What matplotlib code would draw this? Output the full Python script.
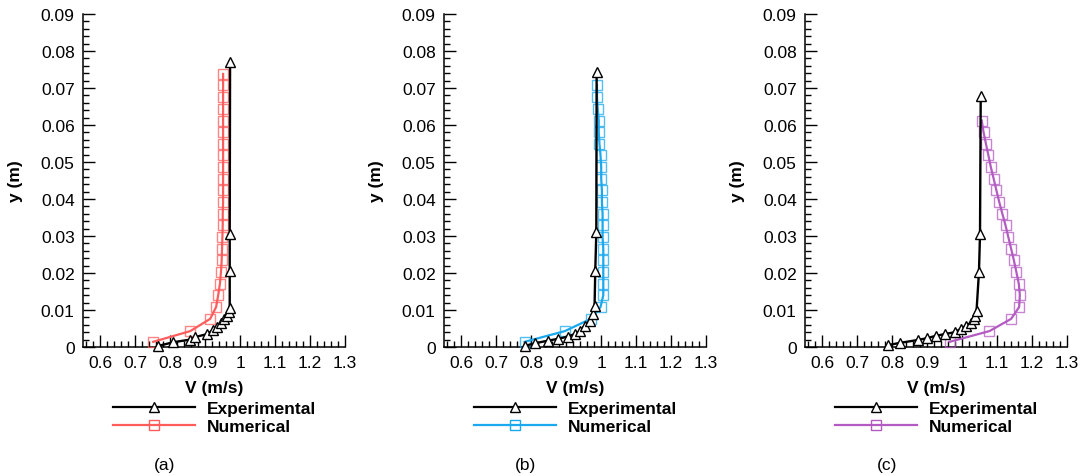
import matplotlib
matplotlib.use("Agg")
import matplotlib.pyplot as plt
from matplotlib.ticker import MultipleLocator
from matplotlib.lines import Line2D

plt.rcParams['font.family'] = ['Liberation Sans', 'DejaVu Sans']

# ---------------- data ----------------
x_ticks = [0.6, 0.7, 0.8, 0.9, 1.0, 1.1, 1.2, 1.3]
x_tick_labels = ['0.6', '0.7', '0.8', '0.9', '1', '1.1', '1.2', '1.3']
y_ticks = [0, 0.01, 0.02, 0.03, 0.04, 0.05, 0.06, 0.07, 0.08, 0.09]
y_tick_labels = ['0', '0.01', '0.02', '0.03', '0.04', '0.05', '0.06', '0.07', '0.08', '0.09']
panel_labels = ['(a)', '(b)', '(c)']
series_names = ['Experimental', 'Numerical']

# Experimental profiles
y_exp_a = [0.0003, 0.0013, 0.0020, 0.0027, 0.0035, 0.0045, 0.0055, 0.0065, 0.0075,
           0.0085, 0.0095, 0.0105, 0.0205, 0.0305, 0.0770]
v_exp_a = [0.766, 0.809, 0.857, 0.871, 0.906, 0.921, 0.935, 0.945, 0.955,
           0.962, 0.967, 0.970, 0.970, 0.970, 0.971]

y_exp_b = [0.0003, 0.0010, 0.0017, 0.0022, 0.0028, 0.0035, 0.0043, 0.0057, 0.0070,
           0.0089, 0.0110, 0.0205, 0.0310, 0.0743]
v_exp_b = [0.781, 0.810, 0.847, 0.876, 0.904, 0.924, 0.939, 0.953, 0.967,
           0.976, 0.981, 0.983, 0.986, 0.987]

y_exp_c = [0.0005, 0.0011, 0.0019, 0.0024, 0.0030, 0.0035, 0.0040, 0.0049, 0.0057,
           0.0065, 0.0075, 0.0085, 0.0097, 0.0203, 0.0305, 0.0678]
v_exp_c = [0.787, 0.821, 0.873, 0.900, 0.924, 0.950, 0.979, 0.996, 1.010,
           1.025, 1.033, 1.038, 1.041, 1.048, 1.051, 1.053]

# Numerical profiles
y_num_a = [0.0014, 0.0043, 0.0076, 0.0108, 0.0140, 0.0171, 0.0203, 0.0234, 0.0266,
           0.0297, 0.0329, 0.0360, 0.0392, 0.0423, 0.0455, 0.0486, 0.0518, 0.0549,
           0.0581, 0.0612, 0.0644, 0.0675, 0.0707, 0.0738]
v_num_a = [0.751, 0.857, 0.914, 0.931, 0.937, 0.942, 0.945, 0.947, 0.948,
           0.949, 0.950, 0.950, 0.951, 0.951, 0.951, 0.951, 0.951, 0.951,
           0.951, 0.951, 0.951, 0.951, 0.951, 0.951]

y_num_b = [0.0014, 0.0043, 0.0076, 0.0108, 0.0140, 0.0171, 0.0203, 0.0234, 0.0266,
           0.0297, 0.0329, 0.0360, 0.0392, 0.0423, 0.0455, 0.0486, 0.0518, 0.0549,
           0.0581, 0.0612, 0.0644, 0.0675, 0.0707]
v_num_b = [0.781, 0.896, 0.970, 0.998, 1.006, 1.006, 1.006, 1.006, 1.006,
           1.004, 1.004, 1.004, 1.002, 1.002, 1.000, 1.000, 0.998, 0.995,
           0.993, 0.993, 0.990, 0.988, 0.988]

y_num_c = [0.0014, 0.0043, 0.0076, 0.0108, 0.0140, 0.0171, 0.0203, 0.0234, 0.0266,
           0.0297, 0.0329, 0.0360, 0.0392, 0.0423, 0.0455, 0.0486, 0.0518, 0.0549,
           0.0581, 0.0612]
v_num_c = [0.964, 1.078, 1.140, 1.163, 1.165, 1.162, 1.155, 1.148, 1.140,
           1.132, 1.124, 1.115, 1.106, 1.098, 1.090, 1.082, 1.075, 1.068,
           1.061, 1.056]

num_colors = ['#FF5C5C', '#1AA8EE', '#B35BC2']

panels = [
    (v_exp_a, y_exp_a, v_num_a, y_num_a),
    (v_exp_b, y_exp_b, v_num_b, y_num_b),
    (v_exp_c, y_exp_c, v_num_c, y_num_c),
]

# ---------------- figure ----------------
W, H = 1082, 477
fig = plt.figure(figsize=(W / 100, H / 100), dpi=100)
FS = 12.5

ax_left_px = [83, 444, 805]
ax_w_px, ax_bottom_px, ax_top_px = 262, 348, 15

for i, (ve, ye, vn, yn) in enumerate(panels):
    l = ax_left_px[i]
    ax = fig.add_axes([l / W, (H - ax_bottom_px) / H, ax_w_px / W,
                       (ax_bottom_px - ax_top_px) / H])
    col = num_colors[i]
    ax.plot(vn, yn, '-', color=col, lw=1.6, zorder=2)
    ax.plot(vn, yn, 's', mfc='none', mec=col, mew=1.0, ms=6.5, alpha=0.75,
            zorder=3, clip_on=False)
    ax.plot(ve, ye, '-', color='black', lw=1.7, zorder=4)
    ax.plot(ve, ye, '^', mfc='white', mec='black', mew=1.0, ms=7.5,
            zorder=5, clip_on=False)

    ax.set_xlim(0.55, 1.3)
    ax.set_ylim(0, 0.09)
    ax.set_xticks(x_ticks)
    ax.set_xticklabels(x_tick_labels, fontsize=FS)
    ax.set_yticks(y_ticks)
    ax.set_yticklabels(y_tick_labels, fontsize=FS)
    ax.xaxis.set_minor_locator(MultipleLocator(0.02))
    ax.yaxis.set_minor_locator(MultipleLocator(0.002))
    ax.tick_params(which='major', direction='in', length=8.5, width=1.0, pad=6)
    ax.tick_params(which='minor', direction='in', length=4.5, width=1.0)
    ax.tick_params(top=False, right=False, which='both')
    for s in ['top', 'right']:
        ax.spines[s].set_visible(False)
    for s in ['left', 'bottom']:
        ax.spines[s].set_linewidth(1.1)

    ax.set_xlabel('V (m/s)', fontsize=FS, fontweight='bold')
    ax.xaxis.set_label_coords(0.5, -0.1)
    ax.set_ylabel('y (m)', fontsize=FS, fontweight='bold')
    ax.yaxis.set_label_coords(-0.228, 0.5)

    handles = [
        Line2D([], [], color='black', lw=1.6, marker='^', mfc='white', mec='black',
               ms=7.5, mew=1.0),
        Line2D([], [], color=col, lw=1.6, marker='s', mfc='none', mec=col,
               ms=6.5, mew=1.0),
    ]
    leg = ax.legend(handles, series_names, loc='upper left',
                    bbox_to_anchor=((l + 30) / W, (H - 402) / H),
                    bbox_transform=fig.transFigure, frameon=False,
                    borderaxespad=0, borderpad=0, handlelength=4.7,
                    handletextpad=0.7, labelspacing=0.16, numpoints=1,
                    prop={'weight': 'bold', 'size': FS})

    fig.text((l + 82) / W, (H - 466) / H, panel_labels[i], fontsize=FS,
             ha='center', va='center')

fig.savefig('out.png', dpi=100)
